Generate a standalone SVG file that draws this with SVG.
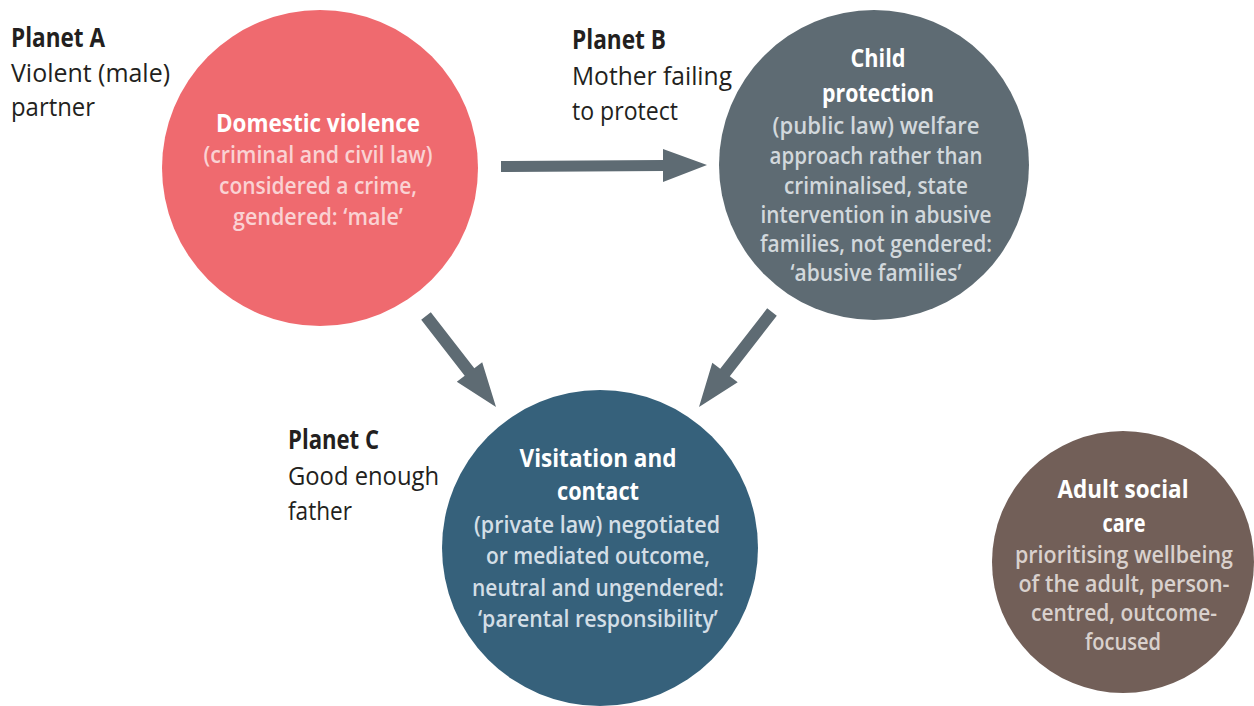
<svg xmlns="http://www.w3.org/2000/svg" width="1254" height="706" viewBox="0 0 1254 706">
<style>
text{font-family:"Open Sans","Noto Sans","DejaVu Sans",sans-serif;}
.lbl{font-size:26px;fill:#231F20;}
.lb{font-weight:700;}
.t{font-size:25px;font-weight:700;fill:#FFFFFF;text-anchor:middle;}
.s{font-size:23px;font-weight:600;text-anchor:middle;}
.sa{fill:#FAD2D3;}
.sb{fill:#D2D8DC;}
.sc{fill:#D3DEE6;}
.sd{fill:#D9D1CD;}
.arr{fill:#5E6B73;}
</style>
<rect width="1254" height="706" fill="#FFFFFF"/>
<g id="connectors">
<polygon class="arr" points="501,161 663,160 663,149 707,165 663,182 663,171 501,172"/>
<polygon class="arr" points="430.8,312.3 474.3,368.3 482.2,362.3 496,407 456.8,381.7 464.7,375.7 421.2,319.7"/>
<polygon class="arr" points="767.2,308.3 720.2,368.8 712.3,362.8 699,407 737.7,382.2 729.8,376.2 776.8,315.7"/>
</g>
<g id="node-domestic-violence">
<circle cx="320" cy="168" r="158" fill="#EF6A6F"/>
<text class="t" x="318" y="132" textLength="204" lengthAdjust="spacingAndGlyphs">Domestic violence</text>
<text class="s sa" x="318" y="163" textLength="229" lengthAdjust="spacingAndGlyphs">(criminal and civil law)</text>
<text class="s sa" x="318" y="194" textLength="198" lengthAdjust="spacingAndGlyphs">considered a crime,</text>
<text class="s sa" x="318" y="225" textLength="170" lengthAdjust="spacingAndGlyphs">gendered: ‘male’</text>
</g>
<g id="node-child-protection">
<circle cx="874" cy="165" r="155" fill="#5E6B73"/>
<text class="t" x="878" y="67" textLength="55" lengthAdjust="spacingAndGlyphs">Child</text>
<text class="t" x="878" y="102" textLength="112" lengthAdjust="spacingAndGlyphs">protection</text>
<text class="s sb" x="876" y="134" textLength="207" lengthAdjust="spacingAndGlyphs">(public law) welfare</text>
<text class="s sb" x="876" y="164" textLength="213" lengthAdjust="spacingAndGlyphs">approach rather than</text>
<text class="s sb" x="876" y="194" textLength="184" lengthAdjust="spacingAndGlyphs">criminalised, state</text>
<text class="s sb" x="876" y="223" textLength="231" lengthAdjust="spacingAndGlyphs">intervention in abusive</text>
<text class="s sb" x="876" y="252" textLength="232" lengthAdjust="spacingAndGlyphs">families, not gendered:</text>
<text class="s sb" x="876" y="281" textLength="171" lengthAdjust="spacingAndGlyphs">‘abusive families’</text>
</g>
<g id="node-visitation">
<circle cx="600" cy="548" r="158" fill="#36617B"/>
<text class="t" x="598" y="467" textLength="157" lengthAdjust="spacingAndGlyphs">Visitation and</text>
<text class="t" x="598" y="500" textLength="82" lengthAdjust="spacingAndGlyphs">contact</text>
<text class="s sc" x="597" y="533" textLength="246" lengthAdjust="spacingAndGlyphs">(private law) negotiated</text>
<text class="s sc" x="598" y="564" textLength="224" lengthAdjust="spacingAndGlyphs">or mediated outcome,</text>
<text class="s sc" x="598" y="596" textLength="252" lengthAdjust="spacingAndGlyphs">neutral and ungendered:</text>
<text class="s sc" x="598" y="627" textLength="240" lengthAdjust="spacingAndGlyphs">‘parental responsibility’</text>
</g>
<g id="node-adult-social-care">
<circle cx="1123" cy="562" r="131" fill="#725F58"/>
<text class="t" x="1123" y="498" textLength="131" lengthAdjust="spacingAndGlyphs">Adult social</text>
<text class="t" x="1124" y="532" textLength="43" lengthAdjust="spacingAndGlyphs">care</text>
<text class="s sd" x="1124" y="563" textLength="218" lengthAdjust="spacingAndGlyphs">prioritising wellbeing</text>
<text class="s sd" x="1124" y="592" textLength="211" lengthAdjust="spacingAndGlyphs">of the adult, person-</text>
<text class="s sd" x="1124" y="621" textLength="186" lengthAdjust="spacingAndGlyphs">centred, outcome-</text>
<text class="s sd" x="1123" y="650" textLength="76" lengthAdjust="spacingAndGlyphs">focused</text>
</g>
<g id="label-planet-a">
<text class="lbl lb" x="11" y="47" textLength="94" lengthAdjust="spacingAndGlyphs">Planet A</text>
<text class="lbl" x="11" y="82" textLength="159" lengthAdjust="spacingAndGlyphs">Violent (male)</text>
<text class="lbl" x="11" y="116" textLength="84" lengthAdjust="spacingAndGlyphs">partner</text>
</g>
<g id="label-planet-b">
<text class="lbl lb" x="572" y="49" textLength="94" lengthAdjust="spacingAndGlyphs">Planet B</text>
<text class="lbl" x="572" y="85" textLength="160" lengthAdjust="spacingAndGlyphs">Mother failing</text>
<text class="lbl" x="572" y="120" textLength="106" lengthAdjust="spacingAndGlyphs">to protect</text>
</g>
<g id="label-planet-c">
<text class="lbl lb" x="288" y="449" textLength="91" lengthAdjust="spacingAndGlyphs">Planet C</text>
<text class="lbl" x="288" y="485" textLength="151" lengthAdjust="spacingAndGlyphs">Good enough</text>
<text class="lbl" x="288" y="520" textLength="64" lengthAdjust="spacingAndGlyphs">father</text>
</g>
</svg>
